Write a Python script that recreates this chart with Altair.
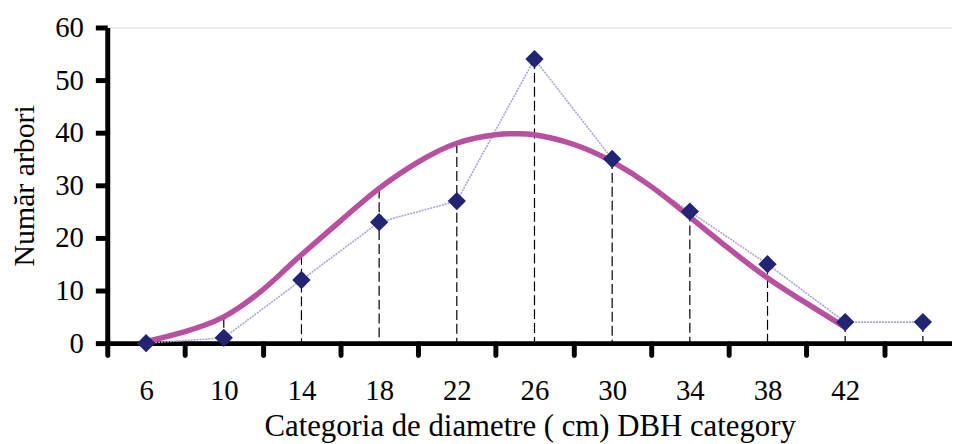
import altair as alt
import pandas as pd

# Observed counts per diameter category
categories = [6, 10, 14, 18, 22, 26, 30, 34, 38, 42, 46]
counts = [0, 1, 12, 23, 27, 54, 35, 25, 15, 4, 4]

# Fitted (smooth) distribution curve
curve_x = [6, 7, 8, 9, 10, 11, 12, 13, 14, 16, 18, 20, 22, 24, 25, 26, 28, 30, 32, 34, 36, 38, 40, 42]
curve_y = [0.3, 1.2, 2.2, 3.4, 5.0, 7.3, 10.1, 13.4, 16.8, 23.2, 29.4, 34.4, 38.0, 39.6, 39.8, 39.6, 37.8, 34.5, 29.8, 24.0, 18.0, 12.4, 7.6, 3.0]

# Top of the dashed drop lines (higher of point / curve)
drop_top = [0, 4.8, 16.8, 29.4, 38.0, 54, 35, 25, 15, 4, 4]

x_tick_values = [4, 6, 8, 10, 12, 14, 16, 18, 20, 22, 24, 26, 28, 30, 32, 34, 36, 38, 40, 42, 44, 46]
y_tick_values = [0, 10, 20, 30, 40, 50, 60]

obs = pd.DataFrame({"x": categories, "y": counts})
fit = pd.DataFrame({"x": curve_x, "y": curve_y})
drops = pd.DataFrame({"x": categories, "top": drop_top, "base": [0] * len(categories)})

FONT = "Liberation Serif"

xscale = alt.Scale(domain=[4, 47.5], nice=False, zero=False)
yscale = alt.Scale(domain=[0, 60], nice=False)

xaxis = alt.Axis(
    values=x_tick_values,
    labelExpr="(datum.value % 4 == 2 && datum.value < 44) ? datum.label : ''",
    tickOpacity={"condition": {"test": "datum.value % 4 == 0", "value": 1}, "value": 0},
    title="Categoria de diametre ( cm) DBH category",
    grid=False,
    domainColor="black", domainWidth=5,
    tickColor="black", tickWidth=5, tickSize=12, tickCap="round",
    labelFont=FONT, labelFontSize=29, labelColor="black", labelPadding=22,
    labelFlush=False, labelOverlap=False,
    titleFont=FONT, titleFontSize=31, titleFontWeight="normal", titleColor="black",
    titlePadding=6,
)

yaxis = alt.Axis(
    values=y_tick_values,
    title="Număr arbori",
    grid=False,
    domainColor="black", domainWidth=5,
    tickColor="black", tickWidth=5, tickSize=12,
    labelFont=FONT, labelFontSize=29, labelColor="black", labelPadding=12,
    labelFlush=False,
    titleFont=FONT, titleFontSize=30, titleFontWeight="normal", titleColor="black",
    titlePadding=15,
)

drop_layer = alt.Chart(drops).mark_rule(color="black", strokeWidth=1.2, strokeDash=[10, 4]).encode(
    x=alt.X("x:Q", scale=xscale, axis=xaxis),
    y=alt.Y("top:Q", scale=yscale, axis=yaxis),
    y2="base:Q",
)

dotted = alt.Chart(obs).mark_line(color="#a4a4d6", strokeWidth=1.6, strokeDash=[2, 1]).encode(
    x="x:Q", y="y:Q"
)

curve = alt.Chart(fit).mark_line(color="#b8509f", strokeWidth=5.5, interpolate="natural").encode(
    x="x:Q", y="y:Q"
)

points = alt.Chart(obs).mark_point(shape="diamond", filled=True, size=340, color="#232572", opacity=1).encode(
    x="x:Q", y="y:Q"
)

chart = alt.layer(drop_layer, dotted, curve, points).properties(
    width=851, height=318,
    autosize=alt.AutoSizeParams(type="none"),
    padding={"left": 100, "top": 18, "right": 0, "bottom": 100},
).configure_view(stroke=None).configure(background="white")

chart.save("out.html", embed_options={"renderer": "svg", "actions": False})
